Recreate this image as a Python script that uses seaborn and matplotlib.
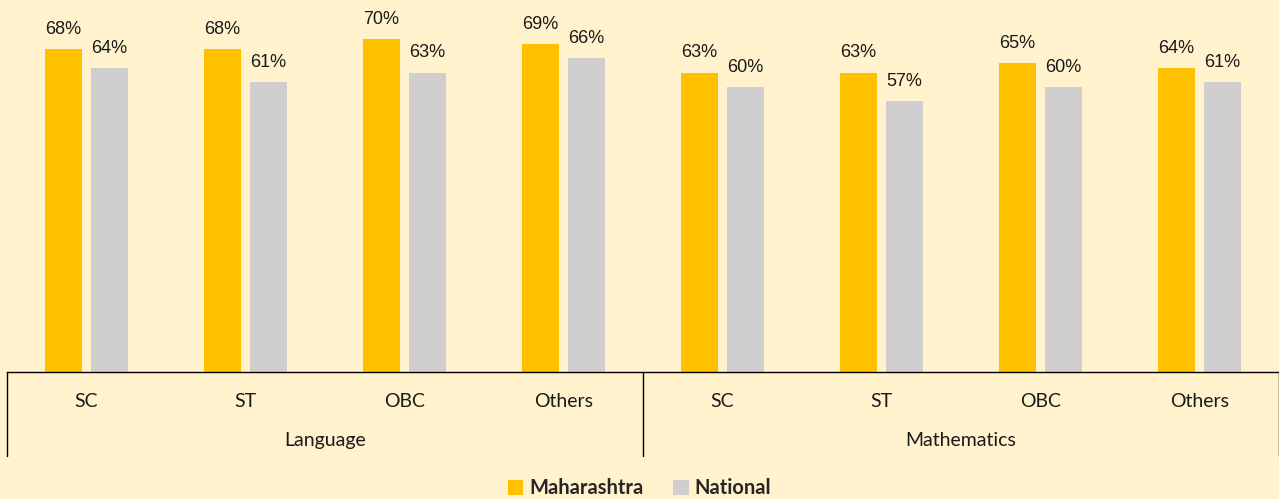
import pandas as pd
import matplotlib
matplotlib.use("Agg")
import matplotlib.pyplot as plt
import seaborn as sns

subjects = ["Language", "Mathematics"]
groups = ["SC", "ST", "OBC", "Others"]
maharashtra = [68, 68, 70, 69, 63, 63, 65, 64]
national = [64, 61, 63, 66, 60, 57, 60, 61]
series = ["Maharashtra", "National"]
colors = ["#FFC000", "#D0CECE"]
bg = "#FFF2CC"

cats = [s + "-" + g for s in subjects for g in groups]
df = pd.DataFrame({
    "cat": cats * 2,
    "series": [series[0]] * len(cats) + [series[1]] * len(cats),
    "value": maharashtra + national,
})

sns.set_style("white")
plt.rcParams["font.family"] = ["Liberation Sans", "DejaVu Sans"]

fig = plt.figure(figsize=(12.79, 4.99), dpi=100, facecolor=bg)
ax = fig.add_axes([7 / 1279, 127 / 499, 1 - 7 / 1279, 372 / 499])
ax.set_facecolor(bg)

sns.barplot(data=df, x="cat", y="value", hue="series", order=cats,
            hue_order=series, palette=colors, width=0.58, gap=0.2,
            saturation=1, linewidth=0, ax=ax, legend=True)

for cont in ax.containers:
    for bar in cont:
        h = bar.get_height()
        ax.annotate(f"{h:.0f}%", (bar.get_x() + bar.get_width() / 2, h),
                    xytext=(0, 11), textcoords="offset points",
                    ha="center", va="baseline", fontsize=13, color="#1a1a1a")

ax.set_xlim(-0.5, len(cats) - 0.5)
ax.set_ylim(0, 78.3)
ax.set_xticks([])
ax.set_yticks([])
ax.set_xlabel("")
ax.set_ylabel("")
for side in ["left", "right", "top"]:
    ax.spines[side].set_visible(False)
ax.spines["bottom"].set_color("black")
ax.spines["bottom"].set_linewidth(1)

tr = ax.get_xaxis_transform()
lab_font = ["Lato", "DejaVu Sans"]
for i, c in enumerate(cats):
    ax.text(i, -0.078, c.split("-")[1], transform=tr, ha="center", va="center",
            fontsize=14, family=lab_font, color="#1a1a1a")
for j, s in enumerate(subjects):
    ax.text(j * 4 + 1.5, -0.185, s, transform=tr, ha="center", va="center",
            fontsize=14, family=lab_font, color="#1a1a1a")
for xv in [-0.5, 3.5, 7.5]:
    ax.plot([xv, xv], [0, -0.226], transform=tr, color="black", lw=1,
            clip_on=False)

handles, labels = ax.get_legend_handles_labels()
ax.get_legend().remove()
fig.legend(handles, labels, loc="lower center", bbox_to_anchor=(0.5, -0.035),
           ncol=2, frameon=False, handlelength=0.75, handleheight=0.75,
           handletextpad=0.3, columnspacing=1.5,
           prop={"family": "Lato", "weight": "bold", "size": 14.5})

fig.savefig("out.png", dpi=100, facecolor=bg)
